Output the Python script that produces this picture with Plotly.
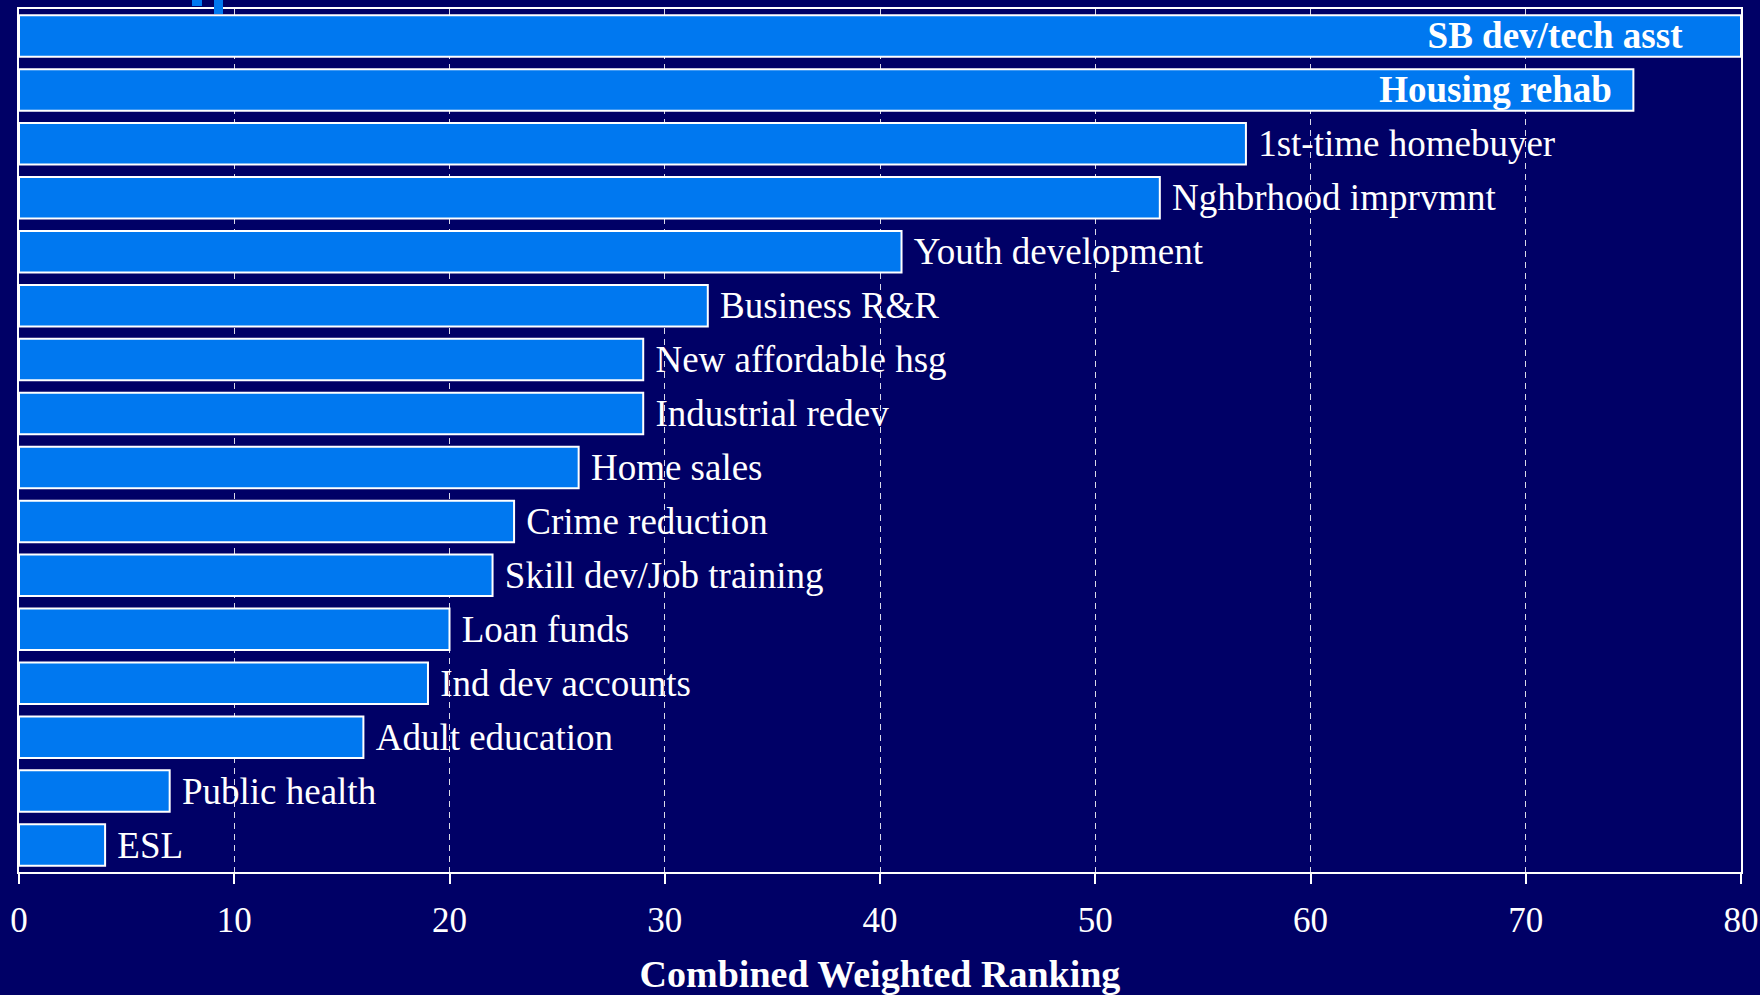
import plotly.graph_objects as go

categories = ["SB dev/tech asst", "Housing rehab", "1st-time homebuyer", "Nghbrhood imprvmnt",
              "Youth development", "Business R&R", "New affordable hsg", "Industrial redev",
              "Home sales", "Crime reduction", "Skill dev/Job training", "Loan funds",
              "Ind dev accounts", "Adult education", "Public health", "ESL"]
values = [80, 75, 57, 53, 41, 32, 29, 29, 26, 23, 22, 20, 19, 16, 7, 4]
inside_labels = ["SB dev/tech asst", "Housing rehab"]
tick_vals = [0, 10, 20, 30, 40, 50, 60, 70, 80]
x_title = "Combined Weighted Ranking"

BG = "#000066"
BAR = "#0078F0"
FONT = "Liberation Serif, Times New Roman, serif"

texts, positions = [], []
for c in categories:
    if c in inside_labels:
        pad = "\u00a0" * (6 if c == categories[0] else 2)
        texts.append("<b>" + c + "</b>" + pad)
        positions.append("inside")
    else:
        texts.append("\u00a0" + c)
        positions.append("outside")

fig = go.Figure(go.Bar(
    x=values, y=categories, orientation="h",
    marker=dict(color=BAR, line=dict(color="white", width=2)),
    text=texts, textposition=positions, insidetextanchor="end",
    constraintext="none", cliponaxis=False,
    textfont=dict(family=FONT, size=37, color="white"),
    hoverinfo="skip",
))

W, H = 1760, 995
ml, mr, mt, mb = 19, 19, 9, 123
fig.update_layout(
    width=W, height=H,
    margin=dict(l=ml, r=mr, t=mt, b=mb, autoexpand=False),
    paper_bgcolor=BG, plot_bgcolor=BG,
    bargap=0.23, showlegend=False,
    font=dict(family=FONT, color="white"),
    xaxis=dict(range=[0, 80], tickvals=tick_vals, ticktext=[str(v) for v in tick_vals],
               automargin=False, ticklabeloverflow="allow",
               showgrid=True, gridcolor="rgba(255,255,255,0.85)", gridwidth=1, griddash="6px,5px",
               showline=True, linecolor="white", linewidth=2, mirror=True,
               ticks="outside", ticklen=10, tickwidth=2, tickcolor="white",
               tickfont=dict(family=FONT, size=35, color="white"),
               ticklabelstandoff=6,
               zeroline=False,
               title=dict(text="<b>" + x_title + "</b>", standoff=22,
                          font=dict(family=FONT, size=38, color="white"))),
    yaxis=dict(autorange="reversed", showticklabels=False, showgrid=False, automargin=False,
               showline=True, linecolor="white", linewidth=2, mirror=True, ticks="",
               zeroline=False),
)

# small decorative blue marks at top-left (from the slide)
pw = W - ml - mr
ph = H - mt - mb
def px2paper(x, y):
    return (x - ml) / pw, 1 - (y - mt) / ph
for (x0, y0, x1, y1) in [(192, 0, 202, 6), (214, 0, 223, 14)]:
    a0, b1 = px2paper(x0, y0)
    a1, b0 = px2paper(x1, y1)
    fig.add_shape(type="rect", xref="paper", yref="paper", x0=a0, x1=a1, y0=b0, y1=b1,
                  fillcolor=BAR, line=dict(width=0), layer="above")

fig.write_html("out.html", config={"displayModeBar": False},
               post_script="document.body.style.margin='0';document.body.style.background='#000066';document.body.style.overflow='hidden';")
